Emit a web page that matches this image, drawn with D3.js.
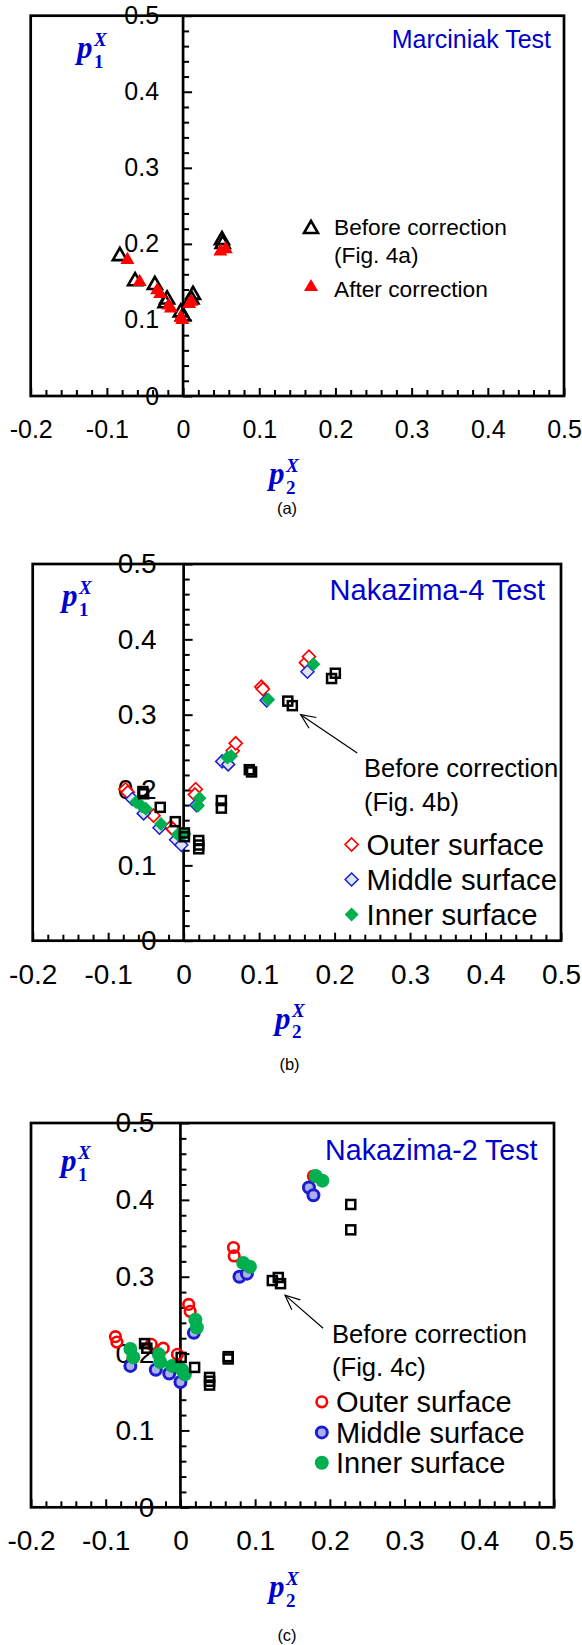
<!DOCTYPE html>
<html><head><meta charset="utf-8">
<script src="https://cdn.jsdelivr.net/npm/d3@7"></script>
<style>
html,body{margin:0;padding:0;background:#fff;}
svg text{font-family:"Liberation Sans",Arial,sans-serif;}
</style></head>
<body><svg id="chart" width="582" height="1645"></svg>
<script>
// ---------- DATA ----------
const xTicks = [-0.2, -0.1, 0, 0.1, 0.2, 0.3, 0.4, 0.5];
const yTicks = [0, 0.1, 0.2, 0.3, 0.4, 0.5];
const panelTitles = ["Marciniak Test", "Nakazima-4 Test", "Nakazima-2 Test"];
const panelCaptions = ["(a)", "(b)", "(c)"];

// Panel (a) Marciniak
const marcBefore = [[-0.083,0.184],[-0.063,0.151],[-0.037,0.146],[-0.021,0.127],[-0.023,0.122],
  [-0.003,0.110],[0.000,0.105],[0.013,0.133],[0.011,0.127],[0.051,0.205],[0.052,0.200]];
const marcAfter = [[-0.073,0.179],[-0.057,0.150],[-0.034,0.139],[-0.030,0.134],[-0.019,0.119],
  [-0.016,0.115],[-0.003,0.103],[-0.001,0.100],[0.008,0.121],[0.011,0.124],[0.049,0.190],[0.056,0.193]];

// Panel (b) Nakazima-4
const nak4Before = [[-0.054,0.198],[-0.053,0.195],[-0.031,0.177],[-0.011,0.158],[0.001,0.143],[0.001,0.138],
  [0.020,0.133],[0.020,0.127],[0.020,0.122],[0.050,0.186],[0.050,0.176],[0.087,0.227],[0.090,0.224],
  [0.138,0.318],[0.144,0.312],[0.196,0.348],[0.201,0.355]];
const nak4Outer = [[-0.077,0.201],[-0.074,0.197],[-0.040,0.166],[-0.017,0.151],[-0.014,0.148],[0.016,0.201],
  [0.015,0.194],[0.065,0.252],[0.069,0.262],[0.103,0.337],[0.105,0.334],[0.162,0.369],[0.166,0.377]];
const nak4Middle = [[-0.068,0.188],[-0.053,0.169],[-0.032,0.150],[-0.010,0.134],[-0.003,0.127],[0.017,0.180],
  [0.051,0.238],[0.059,0.234],[0.110,0.319],[0.164,0.357]];
const nak4Inner = [[-0.063,0.184],[-0.055,0.178],[-0.050,0.175],[-0.030,0.155],[-0.008,0.141],[0.001,0.142],
  [0.021,0.189],[0.019,0.179],[0.058,0.243],[0.063,0.245],[0.112,0.320],[0.172,0.367]];

// Panel (c) Nakazima-2
const nak2Before = [[-0.048,0.213],[-0.045,0.207],[0.001,0.195],[0.019,0.182],[0.039,0.169],[0.039,0.164],
  [0.039,0.159],[0.064,0.196],[0.064,0.193],[0.123,0.295],[0.131,0.299],[0.134,0.291],[0.228,0.394],[0.228,0.361]];
const nak2Outer = [[-0.087,0.222],[-0.085,0.215],[-0.039,0.212],[-0.023,0.207],[-0.004,0.199],[0.011,0.264],
  [0.013,0.255],[0.071,0.338],[0.072,0.327],[0.178,0.431]];
const nak2Middle = [[-0.067,0.184],[-0.033,0.179],[-0.015,0.174],[0.000,0.163],[0.018,0.227],[0.079,0.300],
  [0.089,0.304],[0.172,0.416],[0.178,0.406]];
const nak2Inner = [[-0.067,0.206],[-0.063,0.195],[-0.029,0.199],[-0.027,0.189],[-0.011,0.184],[0.002,0.179],
  [0.006,0.173],[0.020,0.244],[0.022,0.234],[0.084,0.318],[0.093,0.313],[0.181,0.431],[0.190,0.425]];

// annotation arrows (data units: tail -> tip)
const arrowB = [[0.230,0.249],[0.155,0.300]];
const arrowC = [[0.191,0.233],[0.140,0.276]];

// ---------- STYLE / LAYOUT ----------
const BLUE = "#0000cc", RED = "#ff0000", GREEN = "#00b050", MBLUE = "#1c1cd0";
const svg = d3.select("#chart");

const layouts = [
  {L:30.7,R:564,T:15.7,B:396, tf:25, pad:24, title:{x:551,y:48,fs:25},
   p1:{x:77,y:58}, p2:{x:269,dy:88}, cap:{x:287,y:514}},
  {L:32.7,R:561,T:564,B:940.7, tf:28, pad:27, title:{x:545,y:600,fs:29},
   p1:{x:62,y:606}, p2:{x:275,dy:88}, cap:{x:289.5,y:1070}},
  {L:31,R:554,T:1123,B:1507.3, tf:28, pad:26, title:{x:537.5,y:1160,fs:28.6},
   p1:{x:61,y:1171}, p2:{x:269,dy:90}, cap:{x:287,y:1641}}
];

function fmt(d){ return d===0 ? "0" : d.toFixed(1); }

function makePanel(i){
  const lay = layouts[i];
  const x = d3.scaleLinear().domain([-0.2,0.5]).range([lay.L, lay.R]);
  const y = d3.scaleLinear().domain([0,0.5]).range([lay.B, lay.T]);
  const g = svg.append("g");

  const yl = g.append("g").attr("transform",`translate(${x(0)},0)`)
    .call(d3.axisLeft(y).tickValues(yTicks).tickSize(0).tickPadding(lay.pad).tickFormat(fmt));
  yl.select(".domain").remove();
  yl.selectAll("text").attr("font-size",lay.tf).attr("fill","#000").style("font-family","Liberation Sans, Arial");

  const xl = g.append("g").attr("transform",`translate(0,${y(0)})`)
    .call(d3.axisBottom(x).tickValues(xTicks).tickSize(0).tickPadding(lay.tf===25?24:23).tickFormat(fmt));
  xl.select(".domain").remove();
  xl.selectAll("text").attr("font-size",lay.tf).attr("fill","#000").style("font-family","Liberation Sans, Arial");

  const xMinor = d3.range(-0.2,0.5001,0.02).map(v=>+v.toFixed(2));
  g.append("g").attr("transform",`translate(0,${y(0)})`)
    .call(d3.axisTop(x).tickValues(xMinor.filter(v=>Math.abs(v*10-Math.round(v*10))>1e-6)).tickSize(6).tickFormat(""))
    .call(s=>s.select(".domain").remove())
    .selectAll("line").attr("stroke","#000").attr("stroke-width",2);
  g.append("g").attr("transform",`translate(0,${y(0)})`)
    .call(d3.axisTop(x).tickValues(xTicks).tickSize(8).tickFormat(""))
    .call(s=>s.select(".domain").remove())
    .selectAll("line").attr("stroke","#000").attr("stroke-width",2);

  const yMinor = d3.range(0,0.5001,0.02).map(v=>+v.toFixed(2));
  g.append("g").attr("transform",`translate(${x(0)},0)`)
    .call(d3.axisRight(y).tickValues(yMinor.filter(v=>Math.abs(v*10-Math.round(v*10))>1e-6)).tickSize(6).tickFormat(""))
    .call(s=>s.select(".domain").remove())
    .selectAll("line").attr("stroke","#000").attr("stroke-width",2);
  g.append("g").attr("transform",`translate(${x(0)},0)`)
    .call(d3.axisRight(y).tickValues(yTicks).tickSize(9).tickFormat(""))
    .call(s=>s.select(".domain").remove())
    .selectAll("line").attr("stroke","#000").attr("stroke-width",2);

  g.append("rect").attr("x",x(-0.2)).attr("y",y(0.5)).attr("width",x(0.5)-x(-0.2)).attr("height",y(0)-y(0.5))
    .attr("fill","none").attr("stroke","#000").attr("stroke-width",2.7);
  g.append("line").attr("x1",x(0)).attr("x2",x(0)).attr("y1",y(0)).attr("y2",y(0.5))
    .attr("stroke","#000").attr("stroke-width",2.7);

  g.append("text").attr("x",lay.title.x).attr("y",lay.title.y).attr("text-anchor","end")
    .attr("font-size",lay.title.fs).attr("fill",BLUE).text(panelTitles[i]);

  const sym = (px,py,sub)=>{
    const t = g.append("text").attr("x",px).attr("y",py).attr("fill",BLUE)
      .attr("font-weight","bold").style("font-family","Liberation Serif, DejaVu Serif, serif");
    t.append("tspan").attr("font-size",31).attr("font-style","italic").text("p");
    t.append("tspan").attr("x",px+17).attr("y",py+9.5).attr("font-size",19).text(sub);
    t.append("tspan").attr("x",px+17).attr("y",py-12).attr("font-size",19).attr("font-style","italic").text("X");
  };
  sym(lay.p1.x, lay.p1.y, "1");
  sym(lay.p2.x, y(0)+lay.p2.dy, "2");

  g.append("text").attr("x",lay.cap.x).attr("y",lay.cap.y).attr("text-anchor","middle")
    .attr("font-size",16.5).attr("fill","#000").text(panelCaptions[i]);

  return {g,x,y};
}

function diamondPath(s){ return `M0,${-s}L${s},0L0,${s}L${-s},0Z`; }
const triPath = d3.symbol().type(d3.symbolTriangle).size(85)();
const sqSide = 9;

function drawArrow(g,x0,y0,x1,y1){
  const ang = Math.atan2(y1-y0,x1-x0), L=16, a=0.42;
  g.append("line").attr("x1",x0).attr("y1",y0).attr("x2",x1).attr("y2",y1).attr("stroke","#000").attr("stroke-width",1.2);
  const p = [[x1-L*Math.cos(ang-a), y1-L*Math.sin(ang-a)],[x1,y1],[x1-L*Math.cos(ang+a), y1-L*Math.sin(ang+a)]];
  g.append("path").attr("d",d3.line()(p)).attr("fill","none").attr("stroke","#000").attr("stroke-width",1.2);
}

// ---------- PANEL A ----------
{
  const {g,x,y} = makePanel(0);
  g.append("g").selectAll("path").data(marcBefore).join("path")
    .attr("d",triPath).attr("transform",d=>`translate(${x(d[0])},${y(d[1])})`)
    .attr("fill","none").attr("stroke","#000").attr("stroke-width",2.6);
  g.append("g").selectAll("path").data(marcAfter).join("path")
    .attr("d",triPath).attr("transform",d=>`translate(${x(d[0])},${y(d[1])})`)
    .attr("fill",RED).attr("stroke","none");
  g.append("path").attr("d",triPath).attr("transform","translate(311,229)")
    .attr("fill","none").attr("stroke","#000").attr("stroke-width",2.6);
  g.append("path").attr("d",triPath).attr("transform","translate(311,287)").attr("fill",RED);
  const lt = g.append("g").attr("font-size",22.7).attr("fill","#000");
  lt.append("text").attr("x",334).attr("y",235).text("Before correction");
  lt.append("text").attr("x",334).attr("y",263).text("(Fig. 4a)");
  lt.append("text").attr("x",334).attr("y",297).text("After correction");
}

// ---------- PANEL B ----------
{
  const {g,x,y} = makePanel(1);
  const dia = diamondPath(6.5);
  g.append("g").selectAll("path").data(nak4Outer).join("path")
    .attr("d",dia).attr("transform",d=>`translate(${x(d[0])},${y(d[1])})`)
    .attr("fill","#fff").attr("stroke",RED).attr("stroke-width",1.7);
  g.append("g").selectAll("path").data(nak4Middle).join("path")
    .attr("d",dia).attr("transform",d=>`translate(${x(d[0])},${y(d[1])})`)
    .attr("fill","#dce6f2").attr("stroke",MBLUE).attr("stroke-width",1.5);
  g.append("g").selectAll("path").data(nak4Inner).join("path")
    .attr("d",diamondPath(7)).attr("transform",d=>`translate(${x(d[0])},${y(d[1])})`)
    .attr("fill",GREEN);
  g.append("g").selectAll("rect").data(nak4Before).join("rect")
    .attr("x",d=>x(d[0])-sqSide/2).attr("y",d=>y(d[1])-sqSide/2).attr("width",sqSide).attr("height",sqSide)
    .attr("fill","none").attr("stroke","#000").attr("stroke-width",2.5);
  const [t0,t1] = arrowB;
  drawArrow(g, x(t0[0]),y(t0[1]), x(t1[0]),y(t1[1]));
  const lt = g.append("g").attr("fill","#000");
  lt.append("text").attr("x",364).attr("y",777).attr("font-size",25.5).text("Before correction");
  lt.append("text").attr("x",364).attr("y",811).attr("font-size",25.5).text("(Fig. 4b)");
  g.append("path").attr("d",dia).attr("transform","translate(351.6,844.5)").attr("fill","#fff").attr("stroke",RED).attr("stroke-width",1.7);
  g.append("path").attr("d",dia).attr("transform","translate(351.6,879.5)").attr("fill","#dce6f2").attr("stroke",MBLUE).attr("stroke-width",1.5);
  g.append("path").attr("d",diamondPath(7)).attr("transform","translate(351.6,914.5)").attr("fill",GREEN);
  lt.append("text").attr("x",366.5).attr("y",855).attr("font-size",29.3).text("Outer surface");
  lt.append("text").attr("x",366.5).attr("y",890).attr("font-size",29.3).text("Middle surface");
  lt.append("text").attr("x",366.5).attr("y",925).attr("font-size",29.3).text("Inner surface");
}

// ---------- PANEL C ----------
{
  const {g,x,y} = makePanel(2);
  g.append("g").selectAll("circle").data(nak2Outer).join("circle")
    .attr("cx",d=>x(d[0])).attr("cy",d=>y(d[1])).attr("r",5.3)
    .attr("fill","none").attr("stroke",RED).attr("stroke-width",2.6);
  g.append("g").selectAll("circle").data(nak2Middle).join("circle")
    .attr("cx",d=>x(d[0])).attr("cy",d=>y(d[1])).attr("r",5.5)
    .attr("fill","#aab0ea").attr("stroke",MBLUE).attr("stroke-width",3);
  g.append("g").selectAll("circle").data(nak2Inner).join("circle")
    .attr("cx",d=>x(d[0])).attr("cy",d=>y(d[1])).attr("r",7)
    .attr("fill",GREEN);
  g.append("g").selectAll("rect").data(nak2Before).join("rect")
    .attr("x",d=>x(d[0])-sqSide/2).attr("y",d=>y(d[1])-sqSide/2).attr("width",sqSide).attr("height",sqSide)
    .attr("fill","none").attr("stroke","#000").attr("stroke-width",2.5);
  const [t0,t1] = arrowC;
  drawArrow(g, x(t0[0]),y(t0[1]), x(t1[0]),y(t1[1]));
  const lt = g.append("g").attr("fill","#000");
  lt.append("text").attr("x",332).attr("y",1343).attr("font-size",25.6).text("Before correction");
  lt.append("text").attr("x",332).attr("y",1375.5).attr("font-size",25.6).text("(Fig. 4c)");
  g.append("circle").attr("cx",321.8).attr("cy",1401.8).attr("r",5.3).attr("fill","none").attr("stroke",RED).attr("stroke-width",2.6);
  g.append("circle").attr("cx",321.8).attr("cy",1432.4).attr("r",5.5).attr("fill","#aab0ea").attr("stroke",MBLUE).attr("stroke-width",3);
  g.append("circle").attr("cx",321.8).attr("cy",1462.7).attr("r",7).attr("fill",GREEN);
  lt.append("text").attr("x",336).attr("y",1412).attr("font-size",29).text("Outer surface");
  lt.append("text").attr("x",336).attr("y",1442.6).attr("font-size",29).text("Middle surface");
  lt.append("text").attr("x",336).attr("y",1473).attr("font-size",29).text("Inner surface");
}
</script></body></html>
